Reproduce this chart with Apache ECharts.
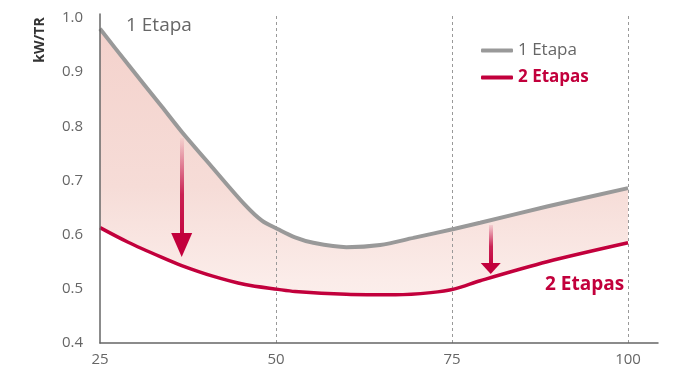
<!DOCTYPE html>
<html>
<head>
<meta charset="utf-8">
<script src="https://cdn.jsdelivr.net/npm/echarts@6/dist/echarts.min.js"></script>
<style>
html,body{margin:0;padding:0;background:#fff;}
#chart{width:677px;height:372px;}
</style>
</head>
<body>
<div id="chart"></div>
<script>
// Load (%) positions and kW/TR for 1 stage
var load1 = [25, 29, 33.8, 36.6, 40.9, 45.6, 48, 50.3, 52.7, 55.3, 60, 64.8, 69.5, 75.4, 79, 88.5, 100];
var etapa1 = [0.980, 0.914, 0.836, 0.790, 0.725, 0.655, 0.626, 0.610, 0.595, 0.585, 0.577, 0.581, 0.594, 0.611, 0.622, 0.652, 0.686];
// Load (%) positions and kW/TR for 2 stages
var load2 = [25, 29, 33.8, 36.6, 40.9, 45.6, 50.3, 52.7, 60, 67, 72, 75.4, 79, 88.5, 100];
var etapas2 = [0.613, 0.586, 0.558, 0.543, 0.524, 0.508, 0.499, 0.495, 0.490, 0.489, 0.493, 0.500, 0.515, 0.550, 0.585];
var xTicks = [25, 50, 75, 100];
var yTicks = [0.4, 0.5, 0.6, 0.7, 0.8, 0.9, 1.0];
var dashedX = [50, 75, 100];
// arrows: [x, shaftTop, shaftBottom, headCenter]
var arrow1 = [36.6, 0.7785, 0.590, 0.581];
var arrow2 = [80.5, 0.618, 0.546, 0.5375];

var RED = '#c2003c';
var GRAY = '#999999';

var pts1 = load1.map(function (x, i) { return [x, etapa1[i]]; });
var pts2 = load2.map(function (x, i) { return [x, etapas2[i]]; });

var shaftGrad = new echarts.graphic.LinearGradient(0, 0, 0, 1, [
  { offset: 0, color: 'rgba(194,0,60,0)' },
  { offset: 0.55, color: 'rgba(194,0,60,0.85)' },
  { offset: 1, color: RED }
]);

var SM = 0.3;
var chart = echarts.init(document.getElementById('chart'));
chart.setOption({
  animation: false,
  grid: { left: 100, right: 19, top: 14, bottom: 29 },
  xAxis: {
    type: 'value', min: 25, max: 104.26, interval: 25, z: 10,
    axisLine: { show: true, lineStyle: { color: '#666', width: 1.5 } },
    axisTick: { show: false },
    splitLine: { show: false },
    axisLabel: {
      color: '#666', fontSize: 15, fontFamily: 'Open Sans', margin: 9,
      formatter: function (v) { return xTicks.indexOf(Math.round(v * 100) / 100) >= 0 ? String(v) : ''; }
    }
  },
  yAxis: {
    type: 'value', min: 0.4, max: 1.0074, interval: 0.1, z: 10,
    axisLine: { show: true, lineStyle: { color: '#666', width: 1.5 } },
    axisTick: { show: false },
    splitLine: { show: false },
    axisLabel: {
      color: '#666', fontSize: 15, fontFamily: 'Open Sans', margin: 17,
      formatter: function (v) {
        var r = Math.round(v * 10) / 10;
        return (Math.abs(v - r) < 1e-6 && yTicks.indexOf(r) >= 0) ? r.toFixed(1) : '';
      }
    }
  },
  legend: {
    orient: 'vertical', left: 476, top: 37, itemGap: 10,
    itemWidth: 32, itemHeight: 4, icon: 'roundRect',
    textStyle: { fontFamily: 'Open Sans', fontSize: 17 },
    data: [
      { name: '1 Etapa', textStyle: { color: '#666' } },
      { name: '2 Etapas', textStyle: { color: RED, fontWeight: 'bold' } }
    ]
  },
  graphic: [
    { type: 'text', z: 100, x: 126, y: 26, style: { text: '1 Etapa', fill: '#666', font: '19px "Open Sans"', textVerticalAlign: 'middle' } },
    { type: 'text', z: 100, x: 545, y: 285, style: { text: '2 Etapas', fill: RED, font: 'bold 19px "Open Sans"', textVerticalAlign: 'middle' } },
    { type: 'text', z: 100, x: 40, y: 40, rotation: Math.PI / 2, style: { text: 'kW/TR', fill: '#333', font: 'bold 14px "Open Sans"', textAlign: 'center', textVerticalAlign: 'middle' } }
  ],
  series: [
    {
      name: 'band', type: 'line', smooth: SM, symbol: 'none', silent: true, z: 1,
      data: pts1,
      lineStyle: { width: 0, opacity: 0 },
      areaStyle: {
        opacity: 1, origin: 'start',
        color: new echarts.graphic.LinearGradient(0, 0, 0, 1, [
          { offset: 0, color: '#f4d2cc' },
          { offset: 0.5, color: '#f6dcd7' },
          { offset: 0.8, color: '#fbece9' },
          { offset: 1, color: '#fdf3f1' }
        ])
      }
    },
    {
      name: 'mask', type: 'line', smooth: SM, symbol: 'none', silent: true, z: 2,
      data: pts2,
      lineStyle: { width: 0, opacity: 0 },
      areaStyle: { opacity: 1, origin: 'start', color: '#ffffff' }
    },
    {
      name: 'grid', type: 'line', data: [], silent: true, z: 3,
      markLine: {
        silent: true, symbol: 'none', label: { show: false },
        lineStyle: { color: '#999', width: 1, type: [3, 3] },
        data: dashedX.map(function (v) { return { xAxis: v }; })
      }
    },
    {
      name: '1 Etapa', type: 'line', smooth: SM, symbol: 'none', z: 4,
      data: pts1,
      lineStyle: { color: GRAY, width: 4 },
      itemStyle: { color: GRAY }
    },
    {
      name: '2 Etapas', type: 'line', smooth: SM, symbol: 'none', z: 5,
      data: pts2,
      lineStyle: { color: RED, width: 3.5 },
      itemStyle: { color: RED },
      markLine: {
        silent: true, symbol: 'none', label: { show: false },
        lineStyle: { color: shaftGrad, width: 4, type: 'solid' },
        data: [
          [{ coord: [arrow1[0], arrow1[1]] }, { coord: [arrow1[0], arrow1[2]] }],
          [{ coord: [arrow2[0], arrow2[1]] }, { coord: [arrow2[0], arrow2[2]] }]
        ]
      },
      markPoint: {
        silent: true, symbol: 'triangle', symbolRotate: 180, label: { show: false },
        itemStyle: { color: RED },
        data: [
          { coord: [arrow1[0], arrow1[3]], symbolSize: [21, 24] },
          { coord: [arrow2[0], arrow2[3]], symbolSize: [20, 11] }
        ]
      }
    }
  ]
});
</script>
</body>
</html>
